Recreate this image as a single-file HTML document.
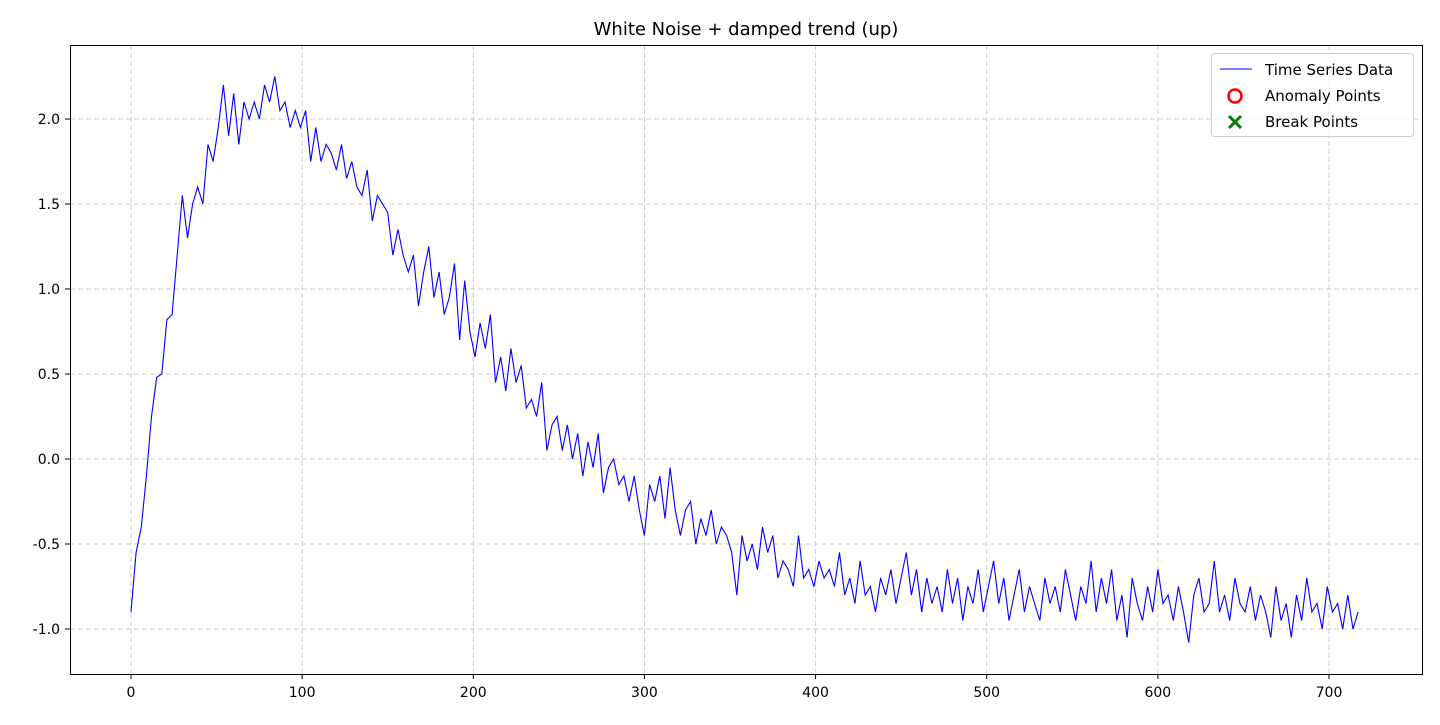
<!DOCTYPE html>
<html><head><meta charset="utf-8"><style>
body{margin:0;background:#fff;font-family:"Liberation Sans","DejaVu Sans",sans-serif;}
svg text{font-family:"DejaVu Sans","Liberation Sans",sans-serif;}
</style></head><body>
<svg id="chart" width="1440" height="720" xmlns="http://www.w3.org/2000/svg">
<text x="746" y="35" text-anchor="middle" font-size="18" fill="#000">White Noise + damped trend (up)</text>
<g id="grid"></g><g id="ticks"></g>
<path id="series" fill="none" stroke="#0000ff" stroke-width="1.1"/>
<rect x="70.5" y="45.5" width="1352" height="629" fill="none" stroke="#000" stroke-width="1"/>
<g>
<rect x="1211.5" y="53.5" width="202" height="83" rx="3" fill="#fff" fill-opacity="0.8" stroke="#ccc"/>
<line x1="1220" y1="69" x2="1252" y2="69" stroke="#0000ff" stroke-width="1.1"/>
<text x="1265" y="75" font-size="15">Time Series Data</text>
<circle cx="1235" cy="96" r="6.5" fill="none" stroke="#ff0000" stroke-width="2.5"/>
<text x="1265" y="101" font-size="15">Anomaly Points</text>
<path d="M1229 116 L1241 128 M1241 116 L1229 128" stroke="#008000" stroke-width="3"/>
<text x="1265" y="127" font-size="15">Break Points</text>
</g>
</svg>
<script>
const xTicks=[0,100,200,300,400,500,600,700];
const yTicks=[-1.0,-0.5,0.0,0.5,1.0,1.5,2.0];
const xStep=3;
const values=[-0.9,-0.55,-0.4,-0.1,0.25,0.48,0.5,0.82,0.85,1.2,1.55,1.3,1.5,1.6,1.5,1.85,1.75,1.95,2.2,1.9,2.15,1.85,2.1,2.0,2.1,2.0,2.2,2.1,2.25,2.05,2.1,1.95,2.05,1.95,2.05,1.75,1.95,1.75,1.85,1.8,1.7,1.85,1.65,1.75,1.6,1.55,1.7,1.4,1.55,1.5,1.45,1.2,1.35,1.2,1.1,1.2,0.9,1.1,1.25,0.95,1.1,0.85,0.95,1.15,0.7,1.05,0.75,0.6,0.8,0.65,0.85,0.45,0.6,0.4,0.65,0.45,0.55,0.3,0.35,0.25,0.45,0.05,0.2,0.25,0.05,0.2,0.0,0.15,-0.1,0.1,-0.05,0.15,-0.2,-0.05,0.0,-0.15,-0.1,-0.25,-0.1,-0.3,-0.45,-0.15,-0.25,-0.1,-0.35,-0.05,-0.3,-0.45,-0.3,-0.25,-0.5,-0.35,-0.45,-0.3,-0.5,-0.4,-0.45,-0.55,-0.8,-0.45,-0.6,-0.5,-0.65,-0.4,-0.55,-0.45,-0.7,-0.6,-0.65,-0.75,-0.45,-0.7,-0.65,-0.75,-0.6,-0.7,-0.65,-0.75,-0.55,-0.8,-0.7,-0.85,-0.6,-0.8,-0.75,-0.9,-0.7,-0.8,-0.65,-0.85,-0.7,-0.55,-0.8,-0.65,-0.9,-0.7,-0.85,-0.75,-0.9,-0.65,-0.85,-0.7,-0.95,-0.75,-0.85,-0.65,-0.9,-0.75,-0.6,-0.85,-0.7,-0.95,-0.8,-0.65,-0.9,-0.75,-0.85,-0.95,-0.7,-0.85,-0.75,-0.9,-0.65,-0.8,-0.95,-0.75,-0.85,-0.6,-0.9,-0.7,-0.85,-0.65,-0.95,-0.8,-1.05,-0.7,-0.85,-0.95,-0.75,-0.9,-0.65,-0.85,-0.8,-0.95,-0.75,-0.9,-1.08,-0.8,-0.7,-0.9,-0.85,-0.6,-0.9,-0.8,-0.95,-0.7,-0.85,-0.9,-0.75,-0.95,-0.8,-0.9,-1.05,-0.75,-0.95,-0.85,-1.05,-0.8,-0.95,-0.7,-0.9,-0.85,-1.0,-0.75,-0.9,-0.85,-1.0,-0.8,-1.0,-0.9];
const NS="http://www.w3.org/2000/svg";
function xs(v){return 131+v*(1329-131)/700;}
function ys(v){return 629-(v+1)*170;}
const grid=document.getElementById('grid'),ticks=document.getElementById('ticks');
xTicks.forEach(t=>{
  const l=document.createElementNS(NS,'line');
  l.setAttribute('x1',xs(t));l.setAttribute('x2',xs(t));l.setAttribute('y1',45);l.setAttribute('y2',674);
  l.setAttribute('stroke','#ccc');l.setAttribute('stroke-dasharray','5,3');
  
  
  grid.appendChild(l);
  const tk=document.createElementNS(NS,'line');
  tk.setAttribute('x1',xs(t));tk.setAttribute('x2',xs(t));tk.setAttribute('y1',674);tk.setAttribute('y2',679);tk.setAttribute('stroke','#000');
  ticks.appendChild(tk);
  const tx=document.createElementNS(NS,'text');
  tx.setAttribute('x',xs(t));tx.setAttribute('y',697);tx.setAttribute('text-anchor','middle');tx.setAttribute('font-size','14');
  tx.textContent=t;
  
  
  ticks.appendChild(tx);
});
yTicks.forEach(t=>{
  const l=document.createElementNS(NS,'line');
  l.setAttribute('x1',70);l.setAttribute('x2',1422);l.setAttribute('y1',ys(t));l.setAttribute('y2',ys(t));
  l.setAttribute('stroke','#ccc');l.setAttribute('stroke-dasharray','5,3');
  
  
  grid.appendChild(l);
  const tk=document.createElementNS(NS,'line');
  tk.setAttribute('x1',65);tk.setAttribute('x2',70);tk.setAttribute('y1',ys(t));tk.setAttribute('y2',ys(t));tk.setAttribute('stroke','#000');
  ticks.appendChild(tk);
  const tx=document.createElementNS(NS,'text');
  tx.setAttribute('x',60);tx.setAttribute('y',ys(t)+5);tx.setAttribute('text-anchor','end');tx.setAttribute('font-size','14');
  tx.textContent=t.toFixed(1);
  
  
  ticks.appendChild(tx);
});
document.getElementById('series').setAttribute('d',values.map((v,i)=>(i?'L':'M')+xs(i*xStep).toFixed(1)+' '+ys(v).toFixed(1)).join(' '));
</script>
</body></html>
